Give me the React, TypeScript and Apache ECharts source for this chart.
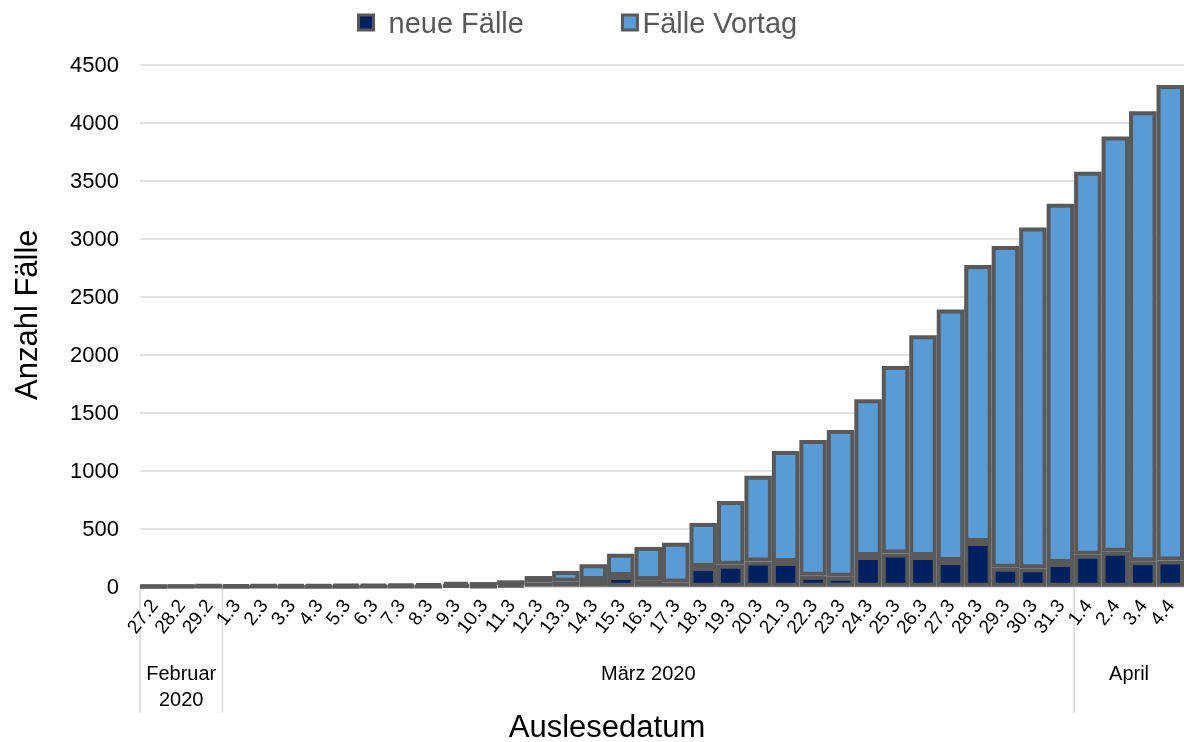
import React, { useEffect, useRef } from 'react';
import * as echarts from 'echarts';

const categories = [
  '27.2', '28.2', '29.2',
  '1.3', '2.3', '3.3', '4.3', '5.3', '6.3', '7.3', '8.3', '9.3', '10.3',
  '11.3', '12.3', '13.3', '14.3', '15.3', '16.3', '17.3', '18.3', '19.3', '20.3',
  '21.3', '22.3', '23.3', '24.3', '25.3', '26.3', '27.3', '28.3', '29.3', '30.3', '31.3',
  '1.4', '2.4', '3.4', '4.4',
];

const neueFaelle = [
  1, 2, 5, 1, 2, 1, 1, 1, 2, 2,
  4, 12, 2, 15, 37, 43, 58, 92, 57, 37,
  170, 190, 218, 213, 95, 86, 265, 287, 264, 222,
  385, 164, 159, 205, 276, 302, 219, 225,
];

const faelleVortag = [
  4, 5, 7, 12, 13, 15, 16, 17, 18, 20,
  22, 26, 38, 40, 55, 92, 135, 193, 285, 342,
  379, 549, 739, 957, 1170, 1265, 1351, 1616, 1903, 2167,
  2389, 2774, 2938, 3097, 3302, 3578, 3880, 4099,
];

const yMin = 0;
const yMax = 4500;
const yInterval = 500;

const monthGroups = [
  { label: 'Februar\n2020', from: '27.2', to: '29.2' },
  { label: 'März 2020', from: '1.3', to: '31.3' },
  { label: 'April', from: '1.4', to: '4.4' },
];

const seriesNames = ['neue Fälle', 'Fälle Vortag'];
const xTitle = 'Auslesedatum';
const yTitle = 'Anzahl Fälle';

const FONT = "'Liberation Sans', Arial, sans-serif";
const BORDER = '#595959';
const GRID = '#d9d9d9';

export default function App() {
  const ref = useRef<HTMLDivElement>(null);

  useEffect(() => {
    if (!ref.current) return;
    const chart = echarts.init(ref.current, null, { renderer: 'svg' });
    chart.setOption({
      animation: false,
      textStyle: { fontFamily: FONT },
      legend: {
        top: 3,
        left: 352,
        itemWidth: 15,
        itemHeight: 15,
        itemGap: 97,
        icon: 'rect',
        itemStyle: { borderColor: BORDER, borderWidth: 3 },
        textStyle: { fontSize: 29, color: '#595959', fontFamily: FONT },
        data: [
          { name: seriesNames[0], textStyle: { padding: [0, 0, 0, 10] } },
          { name: seriesNames[1] },
        ],
      },
      grid: { left: 140, right: 0, top: 64.7, bottom: 155.3, containLabel: false },
      xAxis: {
        type: 'category',
        data: categories,
        axisLine: { lineStyle: { color: GRID, width: 1.5 } },
        axisTick: { show: false },
        axisLabel: {
          interval: 0,
          rotate: 52,
          fontSize: 19,
          color: '#000',
          margin: 15,
          fontFamily: FONT,
        },
      },
      yAxis: {
        type: 'value',
        min: yMin,
        max: yMax,
        interval: yInterval,
        axisLine: { show: false },
        axisTick: { show: false },
        axisLabel: {
          fontSize: 22,
          color: '#000',
          margin: 21,
          fontFamily: FONT,
          formatter: (v: number) => String(v),
        },
        splitLine: { lineStyle: { color: GRID, width: 1.5 } },
      },
      series: [
        {
          name: seriesNames[0],
          type: 'bar',
          stack: 'total',
          data: neueFaelle,
          barCategoryGap: '0%',
          itemStyle: { color: '#002060', borderColor: BORDER, borderWidth: 4 },
        },
        {
          name: seriesNames[1],
          type: 'bar',
          stack: 'total',
          data: faelleVortag,
          barCategoryGap: '0%',
          itemStyle: { color: '#5b9bd5', borderColor: BORDER, borderWidth: 4 },
        },
      ],
    });

    const px = (c: string) => chart.convertToPixel({ xAxisIndex: 0 }, c) as number;
    const step = px(categories[1]) - px(categories[0]);
    const y0 = chart.convertToPixel({ yAxisIndex: 0 }, 0) as number;
    const yTop = chart.convertToPixel({ yAxisIndex: 0 }, yMax) as number;
    const graphics: any[] = [];
    monthGroups.forEach((g) => {
      const x0 = px(g.from) - step / 2;
      const x1 = px(g.to) + step / 2;
      graphics.push({
        type: 'line',
        shape: { x1: x0, y1: y0, x2: x0, y2: y0 + 126 },
        style: { stroke: GRID, lineWidth: 1.5 },
        silent: true,
      });
      graphics.push({
        type: 'text',
        x: (x0 + x1) / 2,
        y: y0 + 73,
        style: {
          text: g.label,
          fontSize: 20,
          fontFamily: FONT,
          fill: '#000',
          align: 'center',
          verticalAlign: 'top',
          lineHeight: 26,
        },
        silent: true,
      });
    });
    graphics.push({
      type: 'text',
      x: 607,
      y: 726,
      style: {
        text: xTitle,
        fontSize: 31,
        fontFamily: FONT,
        fill: '#000',
        align: 'center',
        verticalAlign: 'middle',
      },
      silent: true,
    });
    graphics.push({
      type: 'text',
      x: 26,
      y: (y0 + yTop) / 2 - 11,
      rotation: Math.PI / 2,
      style: {
        text: yTitle,
        fontSize: 31,
        fontFamily: FONT,
        fill: '#000',
        align: 'center',
        verticalAlign: 'middle',
      },
      silent: true,
    });
    chart.setOption({ graphic: graphics });

    return () => chart.dispose();
  }, []);

  return (
    <div
      ref={ref}
      style={{ position: 'fixed', left: 0, top: 0, width: 1184, height: 742 }}
    />
  );
}
